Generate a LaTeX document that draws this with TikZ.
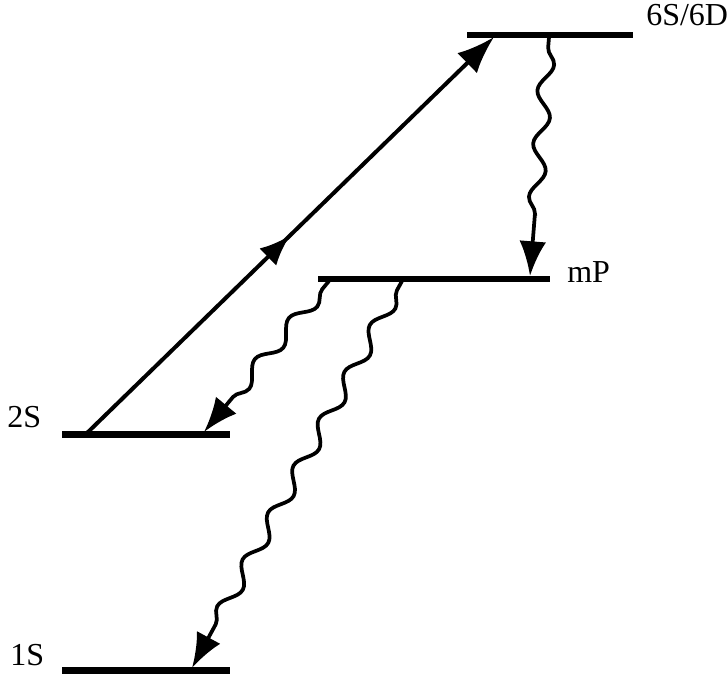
\documentclass[tikz,border=0pt]{standalone}
\usepackage{fontspec}
\setmainfont{Liberation Serif}
\usetikzlibrary{arrows.meta,decorations.pathmorphing,decorations.markings}
\begin{document}
\begin{tikzpicture}[x=0.75pt,y=-0.75pt,
  level/.style={line width=4.8pt},
  lbl/.style={font=\fontsize{24}{28}\selectfont, inner sep=0pt, anchor=base west},
  excite/.style={line width=3pt, -{Latex[length=28pt,width=21pt]},
    postaction={decorate},
    decoration={markings, mark=at position 0.5 with {\arrow{Latex[length=23pt,width=18pt]}}}},
  decay/.style={line width=2.8pt, -{Latex[length=26pt,width=20pt]},
    decorate, decoration={snake, amplitude=5.5pt, segment length=40pt, pre length=8pt, post length=27pt}}]
\useasboundingbox (0,0) rectangle (728,674);
% level end points
\coordinate (L6a) at (467,35);  \coordinate (L6b) at (633,35);
\coordinate (LPa) at (318,279); \coordinate (LPb) at (550,279);
\coordinate (L2a) at (62,434.5); \coordinate (L2b) at (230,434.5);
\coordinate (L1a) at (62,670.5); \coordinate (L1b) at (230,670.5);
% levels
\draw[level] (L6a) -- (L6b);
\draw[level] (LPa) -- (LPb);
\draw[level] (L2a) -- (L2b);
\draw[level] (L1a) -- (L1b);
% labels
\node[lbl] (t6) at (646,26) {6S/6D};
\node[lbl] (tP) at (567,282) {mP};
\node[lbl] (t2) at (7,427) {2S};
\node[lbl] (t1) at (10,665) {1S};
% transition end points
\coordinate (a0) at (86,434);  \coordinate (a1) at (494,37);
\coordinate (w1s) at (549,37); \coordinate (w1e) at (530,276);
\coordinate (w2s) at (329,281); \coordinate (w2e) at (204,432);
\coordinate (w3s) at (402,281); \coordinate (w3e) at (192,668);
% transitions
\draw[excite] (a0) -- (a1);
\draw[decay] (w1s) -- (w1e);
\draw[decay] (w2s) -- (w2e);
\draw[decay] (w3s) -- (w3e);
\end{tikzpicture}
\end{document}
